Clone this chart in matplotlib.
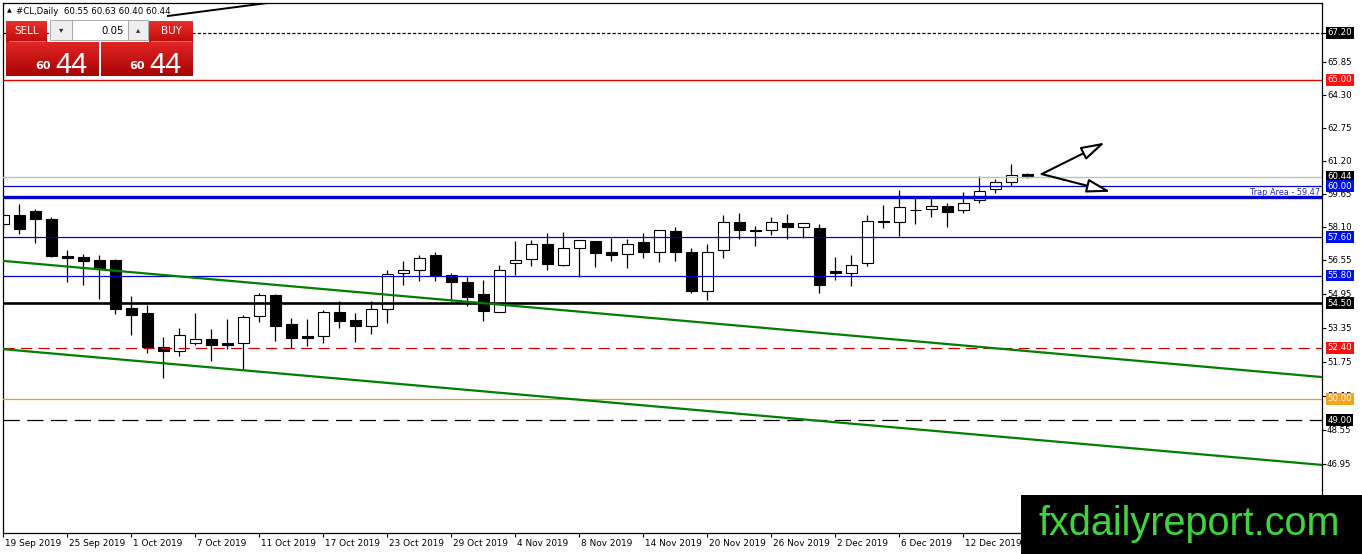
import matplotlib
matplotlib.use("Agg")
import matplotlib.pyplot as plt
import matplotlib.transforms as mtransforms
from matplotlib.patches import Rectangle
import numpy as np

# ---------------- data ----------------
opens = [58.22, 58.65, 58.84, 58.46, 56.71, 56.66, 56.53, 56.53, 54.29, 54.04,
         52.46, 52.27, 52.65, 52.81, 52.63, 52.65, 53.90, 54.87, 53.51, 52.95,
         52.98, 54.09, 53.71, 53.42, 54.22, 55.91, 56.05, 56.78, 55.83, 55.51,
         54.94, 54.10, 56.41, 56.57, 57.27, 56.31, 57.08, 57.41, 56.89, 56.80,
         57.36, 56.89, 57.90, 56.89, 55.09, 56.99, 58.30, 57.96, 57.93, 58.26,
         58.10, 58.04, 56.02, 55.94, 56.41, 58.38, 58.33, 58.87, 58.92, 59.06,
         58.87, 59.34, 59.86, 60.21, 60.55]
highs = [59.35, 59.16, 58.95, 58.55, 57.00, 56.81, 56.77, 56.58, 54.84, 54.42,
         52.93, 53.35, 54.03, 53.28, 53.76, 53.95, 54.97, 54.94, 53.79, 53.75,
         54.18, 54.61, 54.03, 54.61, 56.06, 56.50, 56.78, 56.91, 55.91, 55.72,
         55.59, 56.30, 57.43, 57.47, 57.79, 57.83, 57.47, 57.41, 57.58, 57.52,
         57.79, 57.94, 58.07, 57.11, 57.27, 58.65, 58.73, 58.14, 58.54, 58.68,
         58.26, 58.21, 56.67, 56.77, 58.65, 59.12, 59.82, 59.43, 59.46, 59.20,
         59.73, 60.48, 60.34, 61.04, 60.63]
lows = [57.99, 57.77, 57.35, 56.69, 55.51, 55.36, 54.70, 53.98, 52.99, 52.15,
        51.00, 52.04, 52.54, 51.80, 52.34, 51.36, 53.63, 52.74, 52.38, 52.49,
        52.62, 53.35, 52.69, 53.06, 53.59, 55.36, 55.55, 55.55, 54.62, 54.37,
        53.68, 54.09, 55.83, 56.26, 56.08, 56.26, 55.75, 56.22, 56.50, 56.17,
        56.61, 56.42, 56.50, 54.99, 54.65, 56.61, 57.51, 57.20, 57.71, 57.51,
        57.58, 54.99, 55.59, 55.33, 56.26, 58.05, 57.67, 58.21, 58.54, 58.10,
        58.73, 59.23, 59.70, 60.01, 60.40]
closes = [58.65, 58.00, 58.47, 56.73, 56.64, 56.50, 56.10, 54.22, 53.96, 52.46,
          52.27, 52.99, 52.81, 52.55, 52.55, 53.85, 54.87, 53.45, 52.88, 52.88,
          54.09, 53.68, 53.45, 54.22, 55.86, 56.05, 56.61, 55.83, 55.51, 54.81,
          54.15, 56.05, 56.53, 57.27, 56.36, 57.08, 57.46, 56.88, 56.75, 57.27,
          56.89, 57.93, 56.89, 55.09, 56.89, 58.30, 57.93, 57.88, 58.30, 58.10,
          58.26, 55.37, 55.94, 56.28, 58.37, 58.30, 59.04, 58.88, 59.06, 58.77,
          59.20, 59.76, 60.18, 60.53, 60.44]

date_labels = ["19 Sep 2019", "25 Sep 2019", "1 Oct 2019", "7 Oct 2019",
               "11 Oct 2019", "17 Oct 2019", "23 Oct 2019", "29 Oct 2019",
               "4 Nov 2019", "8 Nov 2019", "14 Nov 2019", "20 Nov 2019",
               "26 Nov 2019", "2 Dec 2019", "6 Dec 2019", "12 Dec 2019"]
date_bars = [0, 4, 8, 12, 16, 20, 24, 28, 32, 36, 40, 44, 48, 52, 56, 60]

price_ticks = [67.20, 65.85, 64.30, 62.75, 61.20, 59.65, 58.10, 56.55, 54.95,
               53.35, 51.75, 50.15, 48.55, 46.95]

level_values = [67.20, 65.00, 60.44, 60.00, 59.47, 57.60, 55.80, 54.50, 52.40, 50.00, 49.00]
boxed_levels = [67.20, 65.00, 60.44, 60.00, 57.60, 55.80, 54.50, 52.40, 50.00, 49.00]
trap_level = 59.47

green_upper_x = [-0.03, 82.4]
green_upper_y = [56.49, 51.03]
green_lower_x = [-0.03, 82.4]
green_lower_y = [52.34, 46.90]
top_trend_x = [10.28, 17.2]
top_trend_y = [68.00, 68.68]

arrow_start = (64.89, 60.57)
arrow_up_end = (68.84, 62.05)
arrow_down_end = (69.2, 59.74)

symbol_title = "#CL,Daily  60.55 60.63 60.40 60.44"
lot_size = "0.05"
bid_big = ("60", "44")

# ---------------- styles ----------------
BLUE = "#0000c8"
level_style = {
    67.20: dict(color="black", lw=0.9, ls=(0, (2.6, 1.6))),
    65.00: dict(color="#e00000", lw=1.0, ls="-"),
    60.44: dict(color="#c0c0c0", lw=1.0, ls="-"),
    60.00: dict(color=BLUE, lw=0.9, ls="-"),
    59.47: dict(color=BLUE, lw=2.4, ls="-"),
    57.60: dict(color=BLUE, lw=0.9, ls="-"),
    55.80: dict(color=BLUE, lw=0.9, ls="-"),
    54.50: dict(color="black", lw=1.9, ls="-"),
    52.40: dict(color="#d00000", lw=0.9, ls=(0, (9, 5))),
    50.00: dict(color="#f0a000", lw=0.9, ls="-"),
    49.00: dict(color="black", lw=0.9, ls=(0, (13, 6))),
}
box_color = {67.20: "black", 65.00: "#ff1010", 60.44: "black", 60.00: "#0010e8",
             57.60: "#0010e8", 55.80: "#0010e8", 54.50: "black", 52.40: "#ff1010",
             50.00: "#f5a31a", 49.00: "black"}

W, H = 1362, 554
fig = plt.figure(figsize=(W / 100, H / 100), dpi=100)
fig.patch.set_facecolor("white")

# main axes: left 3px, right 1322px, top 3px, bottom 533px
ax = fig.add_axes([3 / W, (H - 533) / H, (1322 - 3) / W, (533 - 3) / H])
ax.set_facecolor("white")
ax.set_xlim(-0.031, 82.41)
ax.set_ylim(43.70, 68.61)

x = np.arange(len(opens))
o = np.array(opens); c = np.array(closes)
hi = np.array(highs); lo = np.array(lows)
bottoms = np.minimum(o, c)
heights = np.maximum(np.abs(c - o), 0.03)
colors = ["white" if cc >= oo else "black" for oo, cc in zip(o, c)]

ax.vlines(x, lo, hi, color="black", lw=0.9, zorder=2)
ax.bar(x, heights, bottom=bottoms, width=0.69, color=colors,
       edgecolor="black", linewidth=0.8, zorder=2.2)

for lv in level_values:
    st = level_style[lv]
    ax.axhline(lv, color=st["color"], lw=st["lw"], linestyle=st["ls"], zorder=3)

ax.plot(green_upper_x, green_upper_y, color="#008000", lw=1.6, zorder=3)
ax.plot(green_lower_x, green_lower_y, color="#008000", lw=1.6, zorder=3)
ax.plot(top_trend_x, top_trend_y, color="black", lw=1.4, zorder=3)

ax.text(82.3, trap_level + 0.03, "Trap Area - " + f"{trap_level:.2f}", ha="right",
        va="bottom", fontsize=5.9, color="#2828c8", zorder=4)

aprops = dict(arrowstyle="-|>,head_length=1.45,head_width=0.42", fc="white",
              ec="black", lw=1.5, shrinkA=0, shrinkB=0)
ax.annotate("", xy=arrow_up_end, xytext=arrow_start, arrowprops=aprops, zorder=4)
ax.annotate("", xy=arrow_down_end, xytext=arrow_start, arrowprops=aprops, zorder=4)

# axes styling
for sp in ax.spines.values():
    sp.set_color("black")
    sp.set_linewidth(0.9)
ax.yaxis.tick_right()
ax.set_yticks(price_ticks)
ax.set_yticklabels([f"{v:.2f}" for v in price_ticks])
ax.tick_params(axis="y", direction="out", length=2.8, width=0.8, pad=0.8,
               labelsize=6.2, colors="black")
ax.set_xticks(date_bars)
ax.set_xticklabels(date_labels, ha="left")
ax.tick_params(axis="x", direction="out", length=3.0, width=0.8, pad=1.2,
               labelsize=6.4, colors="black")
for lab in ax.get_xticklabels():
    lab.set_x(0)
off = mtransforms.ScaledTranslation(1.5 / 100, 0, fig.dpi_scale_trans)
for lab in ax.get_xticklabels():
    lab.set_transform(lab.get_transform() + off)

blend = mtransforms.blended_transform_factory(ax.transAxes, ax.transData)
for lv in boxed_levels:
    ax.text(1 + 5.5 / 1319, lv, f"{lv:.2f}", transform=blend, ha="left", va="center",
            fontsize=6.2, color="white", clip_on=False, zorder=6,
            bbox=dict(boxstyle="square,pad=0.16", fc=box_color[lv], ec="none"))

# ---------------- overlay (pixel coordinates) ----------------
ov = fig.add_axes([0, 0, 1, 1], zorder=10)
ov.set_axis_off()
ov.patch.set_alpha(0)


def grad(x0, y0, x1, y1, top, bottom):
    g = np.linspace(0, 1, 64)[:, None]
    t = np.array(matplotlib.colors.to_rgb(top))
    b = np.array(matplotlib.colors.to_rgb(bottom))
    img = (t[None, None, :] * (1 - g[..., None]) + b[None, None, :] * g[..., None])
    img = np.repeat(img, 2, axis=1)
    ov.imshow(img, extent=(x0, x1, y1, y0), aspect="auto", interpolation="bilinear", zorder=1)


# SELL / BUY buttons
grad(6, 21, 47, 42, "#e8302c", "#c00c0c")
grad(149, 21, 193, 42, "#e8302c", "#c00c0c")
ov.plot([9, 45], [40.5, 40.5], color="#f08080", lw=0.6, zorder=2)
ov.plot([151, 191], [40.5, 40.5], color="#f08080", lw=0.6, zorder=2)
ov.text(27, 31, "SELL", color="white", fontsize=7.5, ha="center", va="center", zorder=3)
ov.text(171, 31, "BUY", color="white", fontsize=7.5, ha="center", va="center", zorder=3)
# lot box
for bx0, bx1 in [(50, 72), (72, 128), (128, 148)]:
    face = "white" if bx0 == 72 else "#eeeeee"
    ov.add_patch(Rectangle((bx0, 20), bx1 - bx0, 20, fc=face, ec="#a0a0a0", lw=0.6, zorder=2))
ov.text(61, 30, "▾", fontsize=6, ha="center", va="center", color="#303030", zorder=3)
ov.text(138, 30, "▴", fontsize=6, ha="center", va="center", color="#303030", zorder=3)
ov.text(124, 30.5, lot_size, fontsize=7.3, ha="right", va="center", color="black", zorder=3)
# big price boxes
grad(6, 42, 99, 76, "#e02624", "#a80404")
grad(101, 42, 193, 76, "#e02624", "#a80404")
ov.text(43, 66, bid_big[0], fontsize=8, color="white", ha="center", va="center",
        fontweight="bold", zorder=3)
ov.text(71, 73, bid_big[1], fontsize=21, color="white", ha="center", va="baseline",
        family="Liberation Sans", zorder=3)
ov.text(137, 66, bid_big[0], fontsize=8, color="white", ha="center", va="center",
        fontweight="bold", zorder=3)
ov.text(165, 73, bid_big[1], fontsize=21, color="white", ha="center", va="baseline",
        family="Liberation Sans", zorder=3)

# title
ov.text(9.5, 11, "▲", fontsize=4.5, ha="center", va="center", color="black", zorder=3)
ov.text(16, 11, symbol_title, fontsize=6.2, ha="left", va="center", color="black", zorder=3)

# watermark
ov.add_patch(Rectangle((1021, 495), W - 1021, H - 495, fc="black", ec="none", zorder=4))
ov.text(1189, 535, "fxdailyreport.com", fontsize=28.5, family="Liberation Sans",
        color="#3cd63c", ha="center", va="baseline", zorder=5)

ov.set_xlim(0, W)
ov.set_ylim(H, 0)

fig.savefig("out.png", dpi=100, facecolor="white")
